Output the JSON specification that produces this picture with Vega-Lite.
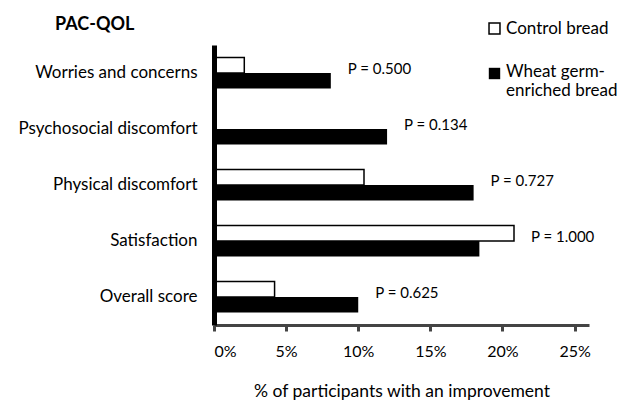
{
  "$schema": "https://vega.github.io/schema/vega-lite/v6.json",
  "autosize": {"type": "none"},
  "width": 375,
  "height": 280,
  "padding": {"left": 214, "top": 45, "right": 36, "bottom": 76},
  "background": "white",
  "config": {
    "font": "Lato",
    "view": {"stroke": null},
    "axisY": {"domainColor": "black", "domainWidth": 5, "ticks": false, "zindex": 1},
    "legend": {"labelFont": "Lato", "labelFontSize": 17, "labelColor": "black"}
  },
  "title": {"text": "PAC-QOL", "anchor": "start", "frame": "group", "dx": -159, "offset": -14, "fontSize": 18, "fontWeight": "bold", "font": "Lato", "color": "black"},
  "data": {"values": [
    {"category": "Worries and concerns", "group": "Control bread", "value": 2.1, "p": "P = 0.500"},
    {"category": "Worries and concerns", "group": "Wheat germ-enriched bread", "value": 8.1, "p": "P = 0.500"},
    {"category": "Psychosocial discomfort", "group": "Control bread", "value": 0, "p": "P = 0.134"},
    {"category": "Psychosocial discomfort", "group": "Wheat germ-enriched bread", "value": 12.0, "p": "P = 0.134"},
    {"category": "Physical discomfort", "group": "Control bread", "value": 10.4, "p": "P = 0.727"},
    {"category": "Physical discomfort", "group": "Wheat germ-enriched bread", "value": 18.0, "p": "P = 0.727"},
    {"category": "Satisfaction", "group": "Control bread", "value": 20.8, "p": "P = 1.000"},
    {"category": "Satisfaction", "group": "Wheat germ-enriched bread", "value": 18.4, "p": "P = 1.000"},
    {"category": "Overall score", "group": "Control bread", "value": 4.2, "p": "P = 0.625"},
    {"category": "Overall score", "group": "Wheat germ-enriched bread", "value": 10.0, "p": "P = 0.625"}
  ]},
  "encoding": {
    "y": {
      "field": "category", "type": "nominal",
      "sort": ["Worries and concerns", "Psychosocial discomfort", "Physical discomfort", "Satisfaction", "Overall score"],
      "scale": {"paddingInner": 0.45, "paddingOuter": 0.225},
      "axis": {"title": null, "domainColor": "black", "domainWidth": 5, "ticks": false, "zindex": 1, "labelPadding": 17, "labelFontSize": 17, "labelFont": "Lato", "labelColor": "black"}
    }
  },
  "layer": [
    {
      "transform": [{"filter": "datum.group === 'Control bread'"}],
      "mark": {"type": "bar", "stroke": "black", "strokeWidth": 1.5},
      "encoding": {
        "x": {
          "field": "value", "type": "quantitative",
          "scale": {"domain": [0, 25]},
          "axis": {"title": "% of participants with an improvement", "values": [0, 5, 10, 15, 20, 25], "labelExpr": "datum.value + '%'", "grid": false, "domainColor": "#444", "domainWidth": 3, "tickColor": "#444", "tickWidth": 3, "tickSize": 6, "labelPadding": 12, "labelFontSize": 16, "labelFont": "Lato", "labelColor": "black", "titleFontSize": 17.5, "titleFont": "Lato", "titleFontWeight": "normal", "titleColor": "black", "titlePadding": 23}
        },
        "yOffset": {"field": "group", "type": "nominal", "scale": {"domain": ["Control bread", "Wheat germ-enriched bread"], "paddingInner": 0, "paddingOuter": 0}},
        "fill": {
          "field": "group", "type": "nominal",
          "scale": {"range": ["white"]},
          "legend": {"title": null, "orient": "none", "legendX": 272, "legendY": -25, "symbolType": "square", "symbolSize": 120, "symbolStrokeColor": "black", "symbolStrokeWidth": 1.5, "labelOffset": 3}
        }
      }
    },
    {
      "transform": [{"filter": "datum.group === 'Wheat germ-enriched bread'"}],
      "mark": {"type": "bar"},
      "encoding": {
        "x": {"field": "value", "type": "quantitative"},
        "yOffset": {"field": "group", "type": "nominal"},
        "color": {
          "field": "group", "type": "nominal",
          "scale": {"range": ["black"]},
          "legend": {"title": null, "orient": "none", "legendX": 272, "legendY": 20, "symbolType": "square", "symbolSize": 130, "symbolOpacity": 1, "labelOffset": 3, "labelExpr": "['Wheat germ-', 'enriched bread']", "labelBaseline": "top", "labelLineHeight": 25, "encode": {"labels": {"update": {"dy": {"value": -10}}}}}
        }
      }
    },
    {
      "transform": [{"aggregate": [{"op": "max", "field": "value", "as": "maxv"}], "groupby": ["category", "p"]}],
      "mark": {"type": "text", "align": "left", "baseline": "middle", "dx": 17, "dy": -4, "fontSize": 15, "font": "Lato", "color": "black"},
      "encoding": {
        "x": {"field": "maxv", "type": "quantitative"},
        "text": {"field": "p"}
      }
    }
  ]
}
